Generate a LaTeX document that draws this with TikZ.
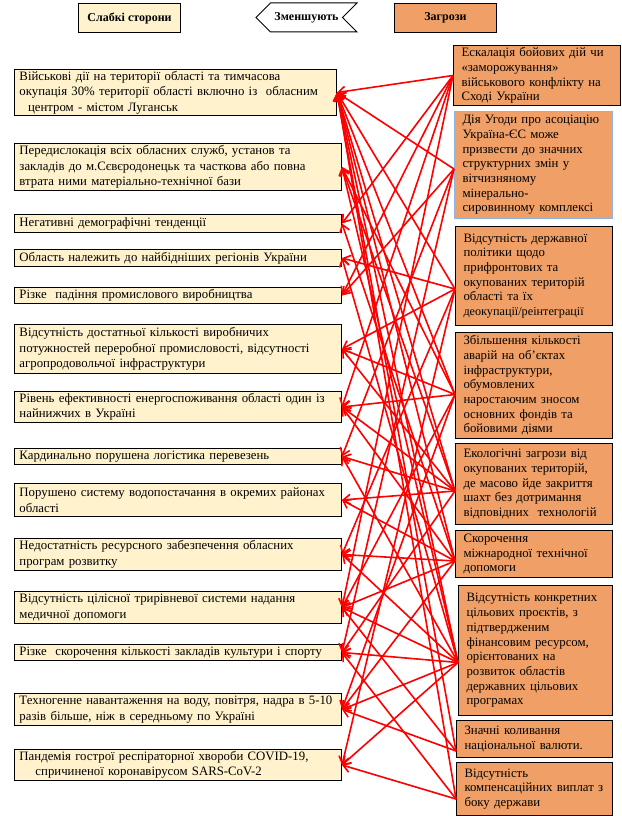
\documentclass[tikz,border=0pt]{standalone}
\usepackage{fontspec}
\setmainfont{Liberation Serif}
\usetikzlibrary{arrows.meta,shapes.symbols}
\definecolor{WeakFill}{RGB}{255,242,204}
\definecolor{ThreatFill}{RGB}{240,160,102}
\definecolor{ThreatBlue}{RGB}{141,180,226}
\definecolor{LinkRed}{RGB}{255,0,0}

\begin{document}
\begin{tikzpicture}[x=1pt,y=-1pt,
        weak/.style={draw=black,fill=WeakFill,line width=1pt,anchor=north west,
                     font=\fontsize{12.8}{15.5}\selectfont,inner xsep=5pt,
                     inner ysep=0pt,align=left},
        threat/.style={draw=black,fill=ThreatFill,line width=1pt,anchor=north west,
                       font=\fontsize{12.8}{14.7}\selectfont,inner xsep=8pt,
                       inner ysep=0pt,align=left},
        head/.style={draw=black,line width=1pt,anchor=north west,
                     font=\bfseries\fontsize{12}{14}\selectfont,
                     minimum width=102pt,minimum height=29pt},
        arr/.style={-{Straight Barb[length=7pt,width=10pt]},LinkRed,line width=1.6pt}
      ]
        \useasboundingbox (0,0) rectangle (621,816);
        % headers
        \node[head,fill=WeakFill] (H1) at (78,3) {Слабкі сторони};
        \node[draw=black,line width=1pt,signal,signal to=west,signal from=east,
              font=\bfseries\fontsize{12}{14}\selectfont,minimum width=101pt,
              minimum height=29pt] (H2) at (306.5,17.5) {Зменшують};
        \node[head,fill=ThreatFill] (H3) at (394,3) {Загрози};
        % weak sides
        \node[weak,text width=312pt,minimum height=46pt] (L1) at (14,69)
          {Військові дії на території області та тимчасова\\окупація 30\% території області включно із \ обласним\\\ \ центром - містом Луганськ};
        \node[weak,text width=317pt,minimum height=47pt] (L2) at (14,143)
          {Передислокація всіх обласних служб, установ та\\закладів до м.Сєвєродонецьк та часткова або повна\\втрата ними матеріально-технічної бази};
        \node[weak,text width=317pt,minimum height=18pt] (L3) at (14,214) {Негативні демографічні тенденції};
        \node[weak,text width=317pt,minimum height=17pt] (L4) at (14,249) {Область належить до найбідніших регіонів України};
        \node[weak,text width=317pt,minimum height=16pt] (L5) at (14,287) {Різке \ падіння промислового виробництва};
        \node[weak,text width=317pt,minimum height=49pt] (L6) at (14,324)
          {Відсутність достатньої кількості виробничих\\потужностей переробної промисловості, відсутності\\агропродовольчої інфраструктури};
        \node[weak,text width=317pt,minimum height=31pt] (L7) at (14,391)
          {Рівень ефективності енергоспоживання області один із\\найнижчих в Україні};
        \node[weak,text width=317pt,minimum height=16pt] (L8) at (14,448) {Кардинально порушена логістика перевезень};
        \node[weak,text width=317pt,minimum height=33pt] (L9) at (14,483)
          {Порушено систему водопостачання в окремих районах\\області};
        \node[weak,text width=317pt,minimum height=32pt] (L10) at (14,538)
          {Недостатність ресурсного забезпечення обласних\\програм розвитку};
        \node[weak,text width=317pt,minimum height=32pt] (L11) at (14,591)
          {Відсутність цілісної трирівневої системи надання\\медичної допомоги};
        \node[weak,text width=317pt,minimum height=16pt] (L12) at (14,644) {Різке \ скорочення кількості закладів культури і спорту};
        \node[weak,text width=317pt,minimum height=32pt] (L13) at (14,693)
          {Техногенне навантаження на воду, повітря, надра в 5-10\\разів більше, ніж в середньому по Україні};
        \node[weak,text width=317pt,minimum height=31pt] (L14) at (14,749)
          {Пандемія гострої респіраторної хвороби COVID-19,\\\hspace*{16pt}спричиненої коронавірусом SARS-CoV-2};
        % threats
        \node[threat,text width=151pt,minimum height=60pt] (R1) at (453,45)
          {Ескалація бойових дій чи\\«заморожування»\\військового конфлікту на\\Сході України};
        \node[threat,draw=ThreatBlue,text width=142pt,minimum height=107pt] (R2) at (454,111)
          {Дія Угоди про асоціацію\\Україна-ЄС може\\призвести до значних\\структурних змін у\\вітчизняному\\мінерально-\\сировинному комплексі};
        \node[threat,text width=141pt,minimum height=99pt] (R3) at (455,226)
          {Відсутність державної\\політики щодо\\прифронтових та\\окупованих територій\\області та їх\\{\fontsize{12.2}{14.7}\selectfont деокупації/реінтеграції}};
        \node[threat,text width=141pt,minimum height=106pt] (R4) at (455,332)
          {Збільшення кількості\\аварій на об’єктах\\інфраструктури,\\обумовлених\\наростаючим зносом\\основних фондів та\\бойовими діями};
        \node[threat,text width=141pt,minimum height=81pt] (R5) at (455,443)
          {Екологічні загрози від\\окупованих територій,\\де масово йде закриття\\шахт без дотримання\\відповідних \ технологій};
        \node[threat,text width=141pt,minimum height=47pt] (R6) at (455,530)
          {Скорочення\\міжнародної технічної\\допомоги};
        \node[threat,text width=138pt,minimum height=130pt] (R7) at (458,585)
          {Відсутність конкретних\\цільових проєктів, з\\підтвердженим\\фінансовим ресурсом,\\орієнтованих на\\розвиток областів\\державних цільових\\програмах};
        \node[threat,text width=140pt,minimum height=37pt] (R8) at (456,720)
          {Значні коливання\\національної валюти.};
        \node[threat,text width=140pt,minimum height=53pt] (R9) at (456,762)
          {Відсутність\\компенсаційних виплат з\\боку держави};
        % link ends on the threat boxes
        \coordinate (T1) at (R1.west);
        \coordinate (T2) at ([yshift=-4pt]R2.west);
        \coordinate (T3) at ([yshift=-13pt]R3.west);
        \coordinate (T4) at ([yshift=-9pt]R4.west);
        \coordinate (T5) at ([yshift=-7pt]R5.west);
        \coordinate (T6) at ([yshift=-7pt]R6.west);
        \coordinate (T7) at ([yshift=-12pt]R7.west);
        \coordinate (T8) at ([yshift=-12pt]R8.west);
        \coordinate (T9) at ([yshift=-10pt]R9.west);
        % links
        \draw[arr] (T1)--(L1.east); \draw[arr] (T1)--(L3.east);
        \draw[arr] (T1)--(L5.east); \draw[arr] (T1)--(L7.east);
        \draw[arr] (T1)--(L11.east);
        \draw[arr] (T2)--(L1.east); \draw[arr] (T2)--(L5.east);
        \draw[arr] (T2)--(L8.east); \draw[arr] (T2)--(L12.east);
        \draw[arr] (T3)--(L1.east); \draw[arr] (T3)--(L4.east);
        \draw[arr] (T3)--(L6.east); \draw[arr] (T3)--(L10.east);
        \draw[arr] (T3)--(L14.east);
        \draw[arr] (T4)--(L1.east); \draw[arr] (T4)--(L2.east);
        \draw[arr] (T4)--(L6.east); \draw[arr] (T4)--(L7.east);
        \draw[arr] (T4)--(L11.east); \draw[arr] (T4)--(L13.east);
        \draw[arr] (T5)--(L1.east); \draw[arr] (T5)--(L2.east);
        \draw[arr] (T5)--(L6.east); \draw[arr] (T5)--(L7.east);
        \draw[arr] (T5)--(L8.east); \draw[arr] (T5)--(L9.east);
        \draw[arr] (T5)--(L12.east);
        \draw[arr] (T6)--(L1.east); \draw[arr] (T6)--(L3.east);
        \draw[arr] (T6)--(L7.east); \draw[arr] (T6)--(L9.east);
        \draw[arr] (T6)--(L10.east); \draw[arr] (T6)--(L11.east);
        \draw[arr] (T6)--(L13.east);
        \draw[arr] (T7)--(L1.east); \draw[arr] (T7)--(L2.east);
        \draw[arr] (T7)--(L4.east); \draw[arr] (T7)--(L8.east);
        \draw[arr] (T7)--(L10.east); \draw[arr] (T7)--(L11.east);
        \draw[arr] (T7)--(L12.east); \draw[arr] (T7)--(L13.east);
        \draw[arr] (T7)--(L14.east);
        \draw[arr] (T8)--(L1.east); \draw[arr] (T8)--(L11.east);
        \draw[arr] (T8)--(L13.east);
        \draw[arr] (T9)--(L1.east); \draw[arr] (T9)--(L12.east);
        \draw[arr] (T9)--(L14.east);
      \end{tikzpicture}
\end{document}
